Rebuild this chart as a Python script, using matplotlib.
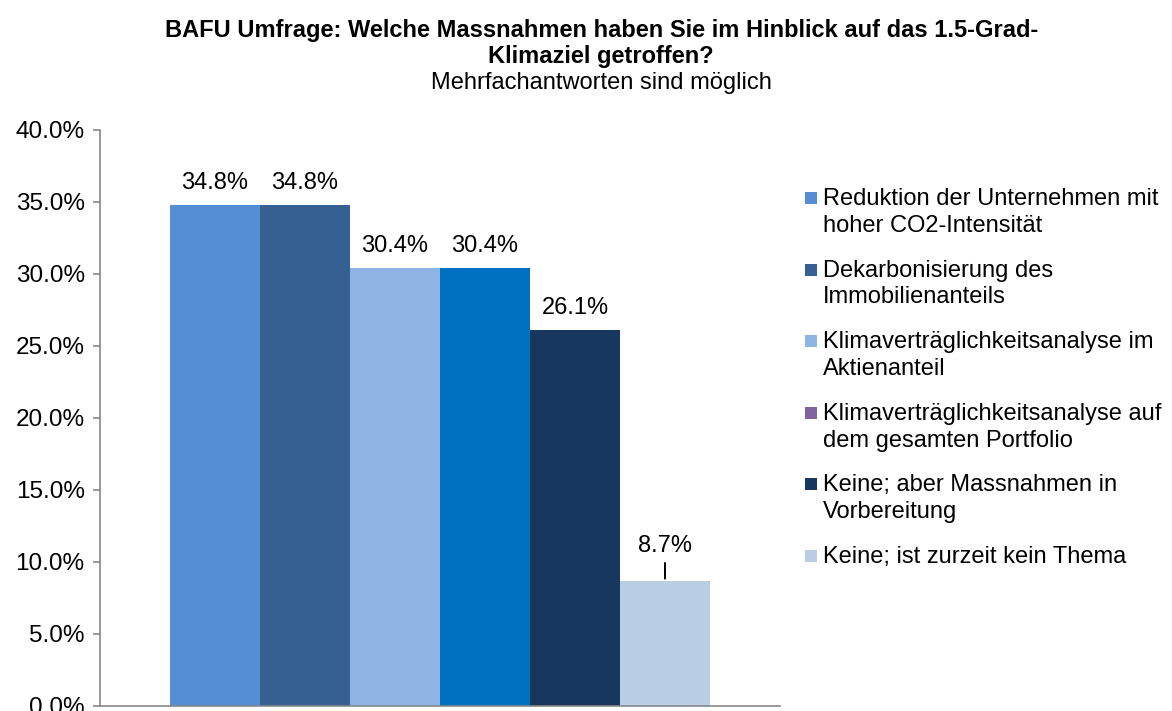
import numpy as np
import matplotlib
matplotlib.use('Agg')
import matplotlib.pyplot as plt
from matplotlib.patches import Rectangle

plt.rcParams['font.family'] = ['Liberation Sans', 'DejaVu Sans']

# Daten aus der Umfrage
kategorien = ['Reduktion der Unternehmen mit\nhoher CO2-Intensität',
              'Dekarbonisierung des\nImmobilienanteils',
              'Klimaverträglichkeitsanalyse im\nAktienanteil',
              'Klimaverträglichkeitsanalyse auf\ndem gesamten Portfolio',
              'Keine; aber Massnahmen in\nVorbereitung',
              'Keine; ist zurzeit kein Thema']
werte = [34.8, 34.8, 30.4, 30.4, 26.1, 8.7]
bar_farben = ['#558ED5', '#376092', '#8EB4E3', '#0070C0', '#17375E', '#B9CDE5']
legend_farben = ['#558ED5', '#376092', '#8EB4E3', '#8064A2', '#17375E', '#B9CDE5']
yticks = [0, 5, 10, 15, 20, 25, 30, 35, 40]

W, H = 1172, 711
fig = plt.figure(figsize=(W / 100, H / 100), dpi=100)
ax = fig.add_axes([100 / W, 5 / H, 680 / W, 576 / H])

x = np.arange(len(werte))
ax.bar(x, werte, width=1.0, color=bar_farben)
ax.set_xlim(-1.278, 6.278)
ax.set_ylim(0, 40)
ax.set_yticks(yticks)
ax.set_yticklabels(['{:.1f}%'.format(v) for v in yticks], fontsize=17.5)
ax.set_xticks([])
ax.tick_params(axis='y', direction='out', length=5, width=1.2, color='#878787', pad=6)
for s in ['top', 'right']:
    ax.spines[s].set_visible(False)
for s in ['left', 'bottom']:
    ax.spines[s].set_color('#878787')
    ax.spines[s].set_linewidth(1.2)

# Datenbeschriftungen
for xi, v in zip(x, werte):
    if v < 15:
        ax.annotate('{:.1f}%'.format(v), xy=(xi, v), xytext=(0, 35),
                    textcoords='offset pixels', ha='center', va='center', fontsize=17,
                    arrowprops=dict(arrowstyle='-', color='black', lw=1.4,
                                    shrinkA=2.5, shrinkB=1.5))
    else:
        ax.annotate('{:.1f}%'.format(v), xy=(xi, v), xytext=(0, 22),
                    textcoords='offset pixels', ha='center', va='center', fontsize=17)

# Titel
fig.text(0.513, 1 - 30 / H, 'BAFU Umfrage: Welche Massnahmen haben Sie im Hinblick auf das 1.5-Grad-',
         ha='center', va='center', fontsize=17, fontweight='bold')
fig.text(0.513, 1 - 57 / H, 'Klimaziel getroffen?',
         ha='center', va='center', fontsize=17, fontweight='bold')
fig.text(0.513, 1 - 83 / H, 'Mehrfachantworten sind möglich',
         ha='center', va='center', fontsize=17)

# Legende
for i, (lab, c) in enumerate(zip(kategorien, legend_farben)):
    yc = 198 + 71.6 * i
    fig.add_artist(Rectangle((805 / W, 1 - (yc + 6) / H), 12 / W, 12 / H,
                             transform=fig.transFigure, color=c, lw=0))
    fig.text(823 / W, 1 - (yc - 10) / H, lab, ha='left', va='top',
             fontsize=17, linespacing=1.28)

fig.savefig('out.png', dpi=100)
